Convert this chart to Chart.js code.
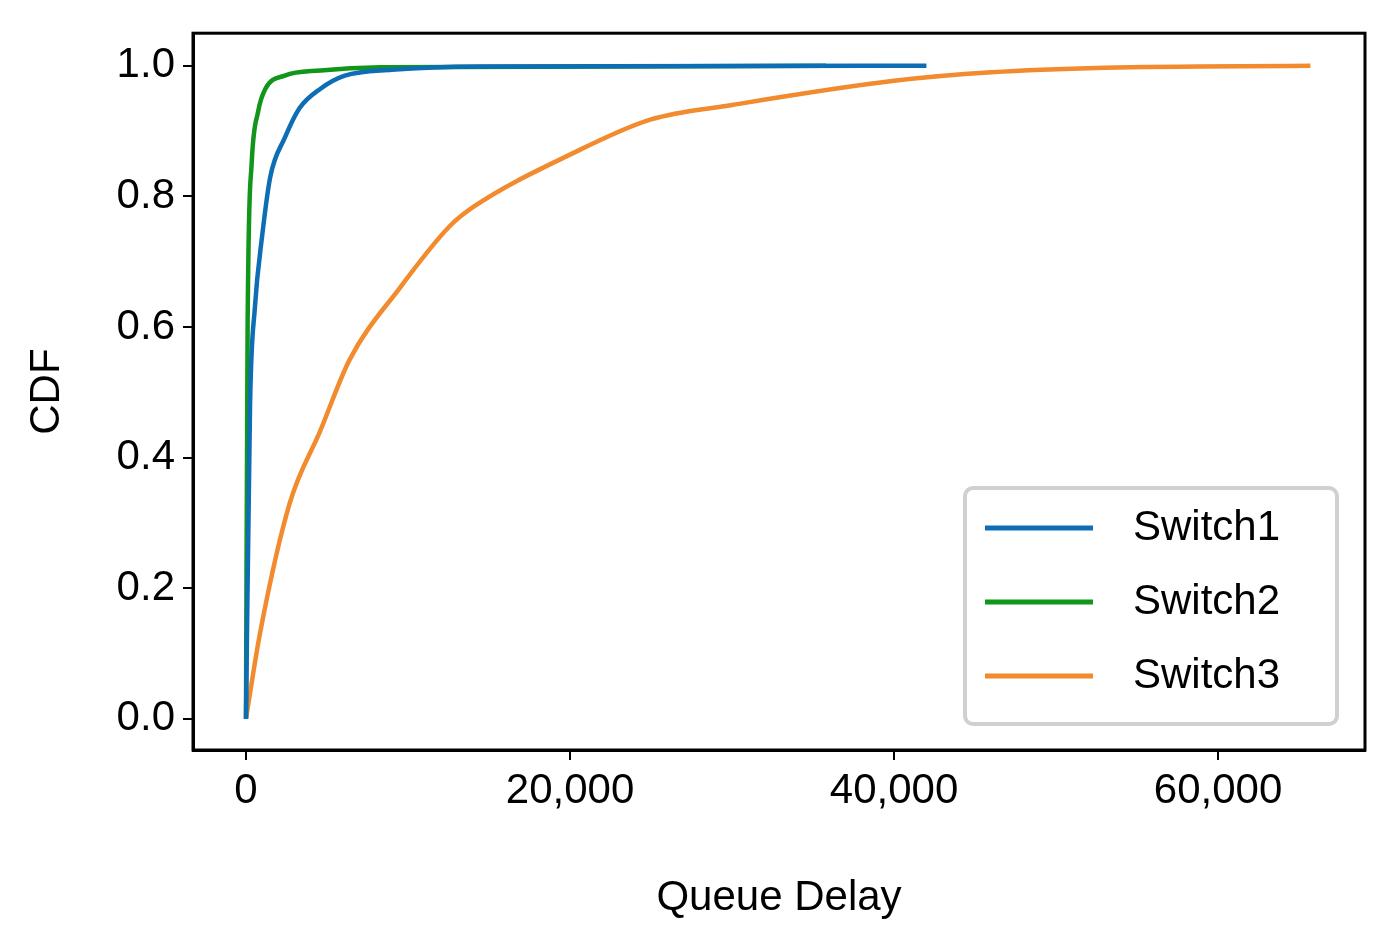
<!DOCTYPE html>
<html>
<head>
<meta charset="utf-8">
<script src="https://cdn.jsdelivr.net/npm/chart.js@4"></script>
<style>
  body { margin: 0; background: #fff; }
  #wrap { width: 1383px; height: 928px; }
</style>
</head>
<body>
<div id="wrap"><canvas id="myChart"></canvas></div>
<script>
const switch1X = [0, 250, 550, 1000, 1500, 2400, 3300, 4600, 6100, 9000, 14500, 42000];
const switch1Y = [0, 0.48, 0.63, 0.74, 0.83, 0.89, 0.935, 0.965, 0.985, 0.994, 0.999, 1.0];
const switch2X = [0, 100, 350, 750, 1200, 2400, 4600, 8300, 35800];
const switch2Y = [0, 0.6, 0.85, 0.93, 0.965, 0.985, 0.993, 0.998, 1.0];
const switch3X = [0, 860, 2700, 4570, 6400, 9500, 12600, 14100, 20000, 25000, 30000, 40000, 46000, 53000, 65700];
const switch3Y = [0, 0.13, 0.33, 0.44, 0.55, 0.66, 0.755, 0.785, 0.864, 0.918, 0.94, 0.977, 0.99, 0.997, 1.0];
const xTicks = [0, 20000, 40000, 60000];
const yTicks = [0, 0.2, 0.4, 0.6, 0.8, 1.0];

function pts(xs, ys) {
    return xs.map((x, i) => ({ x: x, y: ys[i] }));
}

const FONT = 'Liberation Sans, Arial, sans-serif';

const frame = {
    id: 'frame',
    afterDraw(chart) {
        const a = chart.chartArea, c = chart.ctx;
        c.save();
        c.strokeStyle = '#000';
        c.lineWidth = 3;
        c.strokeRect(a.left, a.top, a.right - a.left, a.bottom - a.top);
        // legend box
        const bx = 965, by = 488, bw = 372, bh = 236;
        c.fillStyle = 'rgba(255,255,255,0.9)';
        c.strokeStyle = '#d0d0d0';
        c.lineWidth = 4;
        c.beginPath();
        c.roundRect(bx, by, bw, bh, 8);
        c.fill();
        c.stroke();
        c.font = '42px ' + FONT;
        c.textBaseline = 'middle';
        chart.data.datasets.forEach((ds, i) => {
            const y = 528 + i * 74;
            c.strokeStyle = ds.borderColor;
            c.lineWidth = 5;
            c.beginPath();
            c.moveTo(985, y);
            c.lineTo(1093, y);
            c.stroke();
            c.fillStyle = '#000';
            c.fillText(ds.label, 1133, y);
        });
        c.restore();
    }
};

new Chart(document.getElementById('myChart'), {
    type: 'line',
    data: {
        datasets: [
            { label: 'Switch1', data: pts(switch1X, switch1Y), borderColor: '#0d6db5' },
            { label: 'Switch2', data: pts(switch2X, switch2Y), borderColor: '#11951a' },
            { label: 'Switch3', data: pts(switch3X, switch3Y), borderColor: '#f28a2e' }
        ]
    },
    options: {
        responsive: true,
        maintainAspectRatio: false,
        animation: false,
        elements: {
            point: { radius: 0 },
            line: { borderWidth: 4.5, tension: 0.3, cubicInterpolationMode: 'monotone' }
        },
        layout: { padding: { top: 20, right: 18, left: 18, bottom: 0 } },
        plugins: { legend: { display: false }, tooltip: { enabled: false } },
        scales: {
            x: {
                type: 'linear',
                min: -3270,
                max: 69070,
                afterBuildTicks: s => { s.ticks = xTicks.map(v => ({ value: v })); },
                afterFit: s => { s.height = 178; },
                grid: { drawOnChartArea: false, tickLength: 10, color: '#000', lineWidth: 2 },
                border: { color: '#000', width: 3 },
                ticks: {
                    color: '#000', font: { family: FONT, size: 42 }, padding: 6,
                    callback: v => v.toLocaleString('en-US')
                },
                title: { display: true, text: 'Queue Delay', color: '#000', font: { family: FONT, size: 42 }, padding: { top: 4 } }
            },
            y: {
                min: -0.048,
                max: 1.05,
                afterBuildTicks: s => { s.ticks = yTicks.map(v => ({ value: v })); },
                afterFit: s => { s.width = 175; },
                grid: { drawOnChartArea: false, tickLength: 10, color: '#000', lineWidth: 2 },
                border: { color: '#000', width: 3 },
                ticks: {
                    color: '#000', font: { family: FONT, size: 42 }, padding: 8,
                    callback: v => v.toFixed(1)
                },
                title: { display: true, text: 'CDF', color: '#000', font: { family: FONT, size: 42 }, padding: { bottom: 8 } }
            }
        }
    },
    plugins: [frame]
});
</script>
</body>
</html>
